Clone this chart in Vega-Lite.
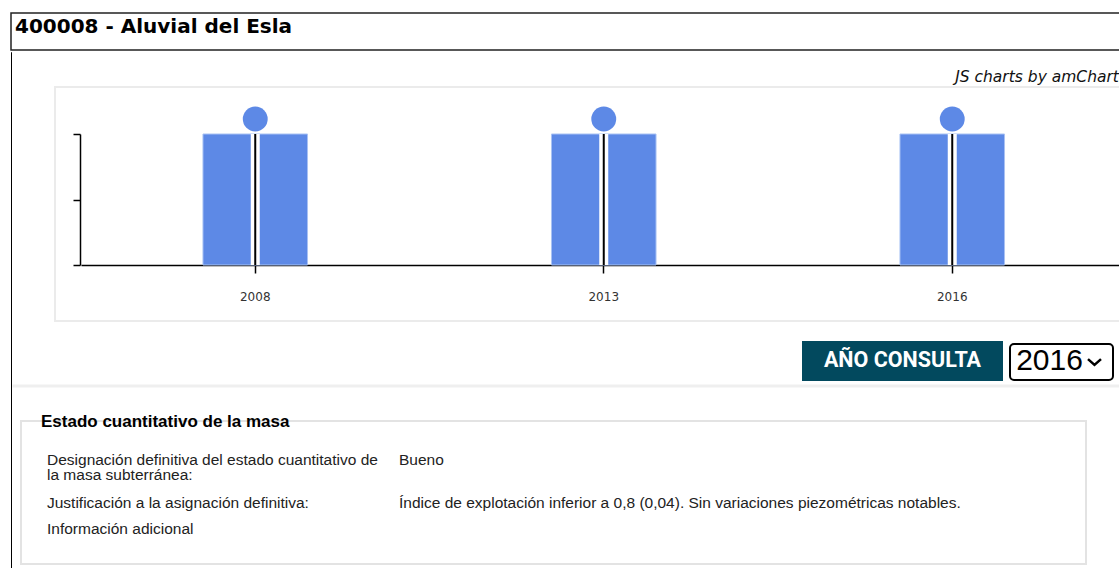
{
  "$schema": "https://vega.github.io/schema/vega-lite/v6.json",
  "background": "white",
  "padding": {"left": 10, "top": 12, "right": 0, "bottom": 0},
  "config": {"view": {"stroke": null}, "font": "DejaVu Sans"},
  "spacing": 0,
  "vconcat": [
    {
      "width": 1120, "height": 37,
      "view": {"stroke": "#222", "strokeWidth": 1.5},
      "title": {"text": "400008 - Aluvial del Esla", "anchor": "start", "frame": "group", "orient": "top", "baseline": "alphabetic", "offset": -40, "dx": 4, "font": "DejaVu Sans", "fontSize": 20, "fontWeight": "bold", "color": "#000"},
      "data": {"values": []},
      "mark": {"type": "text"},
      "encoding": {"text": {"field": "vacio"}}
    },
    {
      "spacing": 0,
      "hconcat": [
        {
          "width": 0.01, "height": 516,
          "view": {"stroke": "#000", "strokeWidth": 1},
          "data": {"values": []},
          "mark": {"type": "text"},
          "encoding": {"text": {"field": "vacio"}}
        },
        {
          "spacing": 0,
          "vconcat": [
            {
              "width": 10, "height": 16,
              "data": {"values": []},
              "mark": {"type": "text"},
              "encoding": {"text": {"field": "vacio"}}
            },
            {
              "spacing": 0,
              "hconcat": [
                {
                  "width": 40, "height": 234,
                  "data": {"values": []},
                  "mark": {"type": "text"},
                  "encoding": {"text": {"field": "vacio"}}
                },
                {
                  "width": 1073, "height": 234,
                  "view": {"stroke": "#ebebeb", "strokeWidth": 2},
                  "title": {"text": "JS charts by amCharts", "anchor": "end", "frame": "group", "orient": "top", "baseline": "alphabetic", "offset": -10, "dx": -1, "font": "DejaVu Sans", "fontSize": 15.5, "fontStyle": "italic", "fontWeight": "normal", "color": "#111"},
                  "data": {"values": [
                    {"anio": "2008", "estado": 2},
                    {"anio": "2013", "estado": 2},
                    {"anio": "2016", "estado": 2}
                  ]},
                  "encoding": {
                    "x": {"field": "anio", "type": "ordinal",
                      "scale": {"range": [26, 1071.5], "paddingInner": 0.7, "paddingOuter": 0.35},
                      "axis": {"orient": "bottom", "offset": -56, "title": null, "labelAngle": 0, "grid": false,
                        "domainColor": "#000", "domainWidth": 1.5, "tickColor": "#000", "tickWidth": 1.5, "tickSize": 8,
                        "labelFont": "DejaVu Sans", "labelFontSize": 12, "labelColor": "#333", "labelPadding": 18.5}},
                    "y": {"field": "estado", "type": "quantitative",
                      "scale": {"domain": [0, 2], "range": [178, 47], "nice": false},
                      "axis": {"orient": "left", "offset": -25, "title": null, "labels": false, "values": [0, 1, 2], "grid": false,
                        "domainColor": "#000", "domainWidth": 1.5, "tickColor": "#000", "tickWidth": 1.5, "tickSize": 7}}
                  },
                  "layer": [
                    {"mark": {"type": "bar", "color": "#5d89e6", "stroke": "#a9c2f3", "strokeWidth": 1}},
                    {"mark": {"type": "rule", "color": "#ffffff", "strokeWidth": 9}, "encoding": {"y2": {"datum": 0}}},
                    {"mark": {"type": "rule", "color": "#000000", "strokeWidth": 2}, "encoding": {"y2": {"datum": 0}}},
                    {"mark": {"type": "point", "shape": "circle", "filled": true, "size": 620, "color": "#5d89e6", "opacity": 1, "yOffset": -15}}
                  ]
                }
              ]
            },
            {
              "width": 10, "height": 19,
              "data": {"values": []},
              "mark": {"type": "text"},
              "encoding": {"text": {"field": "vacio"}}
            },
            {
              "spacing": 6,
              "hconcat": [
                {
                  "width": 782, "height": 40,
                  "data": {"values": []},
                  "mark": {"type": "text"},
                  "encoding": {"text": {"field": "vacio"}}
                },
                {
                  "width": 201, "height": 40,
                  "view": {"fill": "#02495e", "stroke": null},
                  "data": {"values": [{"boton": "AÑO CONSULTA"}]},
                  "mark": {"type": "text", "font": "Roboto", "fontWeight": "bold", "fontSize": 21.5, "color": "#ffffff", "align": "center", "baseline": "middle"},
                  "encoding": {"text": {"field": "boton"}}
                },
                {
                  "spacing": 0,
                  "vconcat": [
                    {
                      "width": 10, "height": 2,
                      "data": {"values": []},
                      "mark": {"type": "text"},
                      "encoding": {"text": {"field": "vacio"}}
                    },
                    {
                      "width": 103, "height": 36,
                      "view": {"fill": "#ffffff", "stroke": "#000", "strokeWidth": 2, "cornerRadius": 4},
                      "data": {"values": [{"seleccion": "2016"}]},
                      "layer": [
                        {
                          "mark": {"type": "text", "font": "Liberation Sans", "fontSize": 30, "color": "#000", "align": "center", "baseline": "middle", "dx": -12, "dy": -1},
                          "encoding": {"text": {"field": "seleccion"}}
                        },
                        {
                          "mark": {"type": "point", "shape": "M-1,-0.45L0,0.45L1,-0.45", "filled": false, "size": 169, "stroke": "#000", "strokeWidth": 2.5, "opacity": 1, "xOffset": 33},
                          "encoding": {}
                        }
                      ]
                    }
                  ]
                }
              ]
            },
            {
              "width": 10, "height": 3,
              "data": {"values": []},
              "mark": {"type": "text"},
              "encoding": {"text": {"field": "vacio"}}
            },
            {
              "width": 1110, "height": 0.01,
              "view": {"stroke": "#efefef", "strokeWidth": 3},
              "data": {"values": []},
              "mark": {"type": "text"},
              "encoding": {"text": {"field": "vacio"}}
            },
            {
              "width": 10, "height": 24,
              "data": {"values": []},
              "mark": {"type": "text"},
              "encoding": {"text": {"field": "vacio"}}
            },
            {
              "spacing": 0,
              "hconcat": [
                {
                  "width": 6, "height": 143,
                  "data": {"values": []},
                  "mark": {"type": "text"},
                  "encoding": {"text": {"field": "vacio"}}
                },
                {
                  "width": 1065, "height": 143,
                  "view": {"stroke": "#e3e3e3", "strokeWidth": 2},
                  "title": {"text": "Estado cuantitativo de la masa", "anchor": "start", "frame": "group", "orient": "top", "baseline": "alphabetic", "offset": -23, "dx": 20, "font": "Liberation Sans", "fontSize": 17, "fontWeight": "bold", "color": "#000"},
                  "data": {"values": [
                    {"orden": 1, "campo": ["Designación definitiva del estado cuantitativo de", "la masa subterránea:"], "valor": "Bueno"},
                    {"orden": 2, "campo": "Justificación a la asignación definitiva:", "valor": "Índice de explotación inferior a 0,8 (0,04). Sin variaciones piezométricas notables."},
                    {"orden": 3, "campo": "Información adicional", "valor": ""}
                  ]},
                  "transform": [{"fold": ["campo", "valor"], "as": ["columna", "texto"]}],
                  "mark": {"type": "text", "align": "left", "baseline": "alphabetic", "font": "Liberation Sans", "fontSize": 15.5, "lineHeight": 15, "color": "#222"},
                  "encoding": {
                    "x": {"field": "columna", "type": "nominal", "scale": {"type": "point", "range": [26, 378], "padding": 0}, "axis": null},
                    "y": {"field": "orden", "type": "quantitative", "scale": {"type": "log", "domain": [1, 3], "range": [43.5, 112.8], "nice": false}, "axis": null},
                    "text": {"field": "texto"}
                  }
                }
              ]
            }
          ]
        }
      ]
    }
  ]
}
